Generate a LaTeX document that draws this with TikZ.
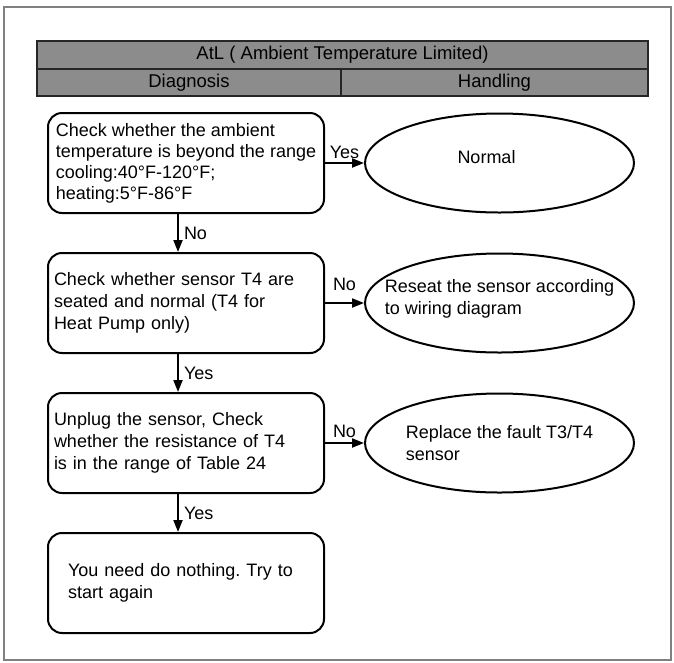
\documentclass[tikz,border=0pt]{standalone}
\usepackage{fontspec}
\setmainfont{Liberation Sans}
\usetikzlibrary{shapes.geometric, arrows.meta, positioning}
\definecolor{hdgray}{RGB}{140,140,140}
\definecolor{framegray}{RGB}{128,128,128}
\frenchspacing

\begin{document}
\begin{tikzpicture}[x=1pt, y=1pt, node distance=38pt and 39pt,
    every node/.style={font=\fontsize{18}{22}\selectfont},
    hd/.style={rectangle, draw=black!85, line width=2pt, fill=hdgray, inner sep=0pt},
    chkbox/.style={rectangle, rounded corners=14pt, draw, line width=2pt, minimum width=276pt, minimum height=100pt, align=left},
    chk/.style={chkbox, text width=264pt, inner xsep=6pt},
    res/.style={ellipse, draw, line width=2pt, minimum width=269pt, minimum height=99pt, inner sep=0pt},
    arr/.style={-{Triangle[length=12pt,width=9pt]}, line width=2pt}]
    \useasboundingbox (0,0) rectangle (674,-662);
    \draw [framegray, line width=1.2pt] (4,-7) rectangle (671,-660);

    % header
    \node (title) [hd, minimum width=611pt, minimum height=28pt, font=\fontsize{18.5}{22}\selectfont] at (342.5,-55) {AtL ( Ambient Temperature Limited)};
    \node (diag) [hd, minimum width=304pt, minimum height=27pt, font=\fontsize{18.5}{22}\selectfont] at (189,-82.5) {Diagnosis};
    \node (hand) [hd, minimum width=307pt, minimum height=27pt, font=\fontsize{18.5}{22}\selectfont] at (494.5,-82.5) {Handling};

    % diagnosis steps
    \node (chk1) [chkbox, font=\fontsize{18}{21}\selectfont] at (186,-163) {Check whether the ambient\\temperature is beyond the range\\cooling:40°F-120°F;\\heating:5°F-86°F};
    \node (chk2) [chk, below=of chk1] {Check whether sensor T4 are\\seated and normal (T4 for\\Heat Pump only)};
    \node (chk3) [chk, below=of chk2] {Unplug the sensor, Check\\whether the resistance of T4\\is in the range of Table 24};
    \node (done) [chk, below=of chk3, text width=236pt, inner xsep=20pt] {You need do nothing. Try to\\start again};

    % handling
    \node (normal) [res, right=of chk1, label={[xshift=-13pt, yshift=6pt]center:Normal}] {};
    \node (reseat) [res, right=of chk2, label={[align=left, yshift=4pt]center:Reseat the sensor according\\to wiring diagram}] {};
    \node (replace) [res, right=of chk3, label={[align=left]center:Replace the fault T3/T4\\sensor}] {};

    \draw [arr] (chk1) -- node[above, inner sep=3pt] {Yes} (normal);
    \draw [arr] (chk2) -- node[above, inner sep=11pt] {No} (reseat);
    \draw [arr] (chk3) -- node[above, inner sep=4pt] {No} (replace);

    \draw [arr] ([xshift=-8pt]chk1.south) -- node[right, inner sep=5pt] {No} ([xshift=-8pt]chk2.north);
    \draw [arr] ([xshift=-8pt]chk2.south) -- node[right, inner sep=5pt] {Yes} ([xshift=-8pt]chk3.north);
    \draw [arr] ([xshift=-8pt]chk3.south) -- node[right, inner sep=5pt] {Yes} ([xshift=-8pt]done.north);
\end{tikzpicture}
\end{document}
